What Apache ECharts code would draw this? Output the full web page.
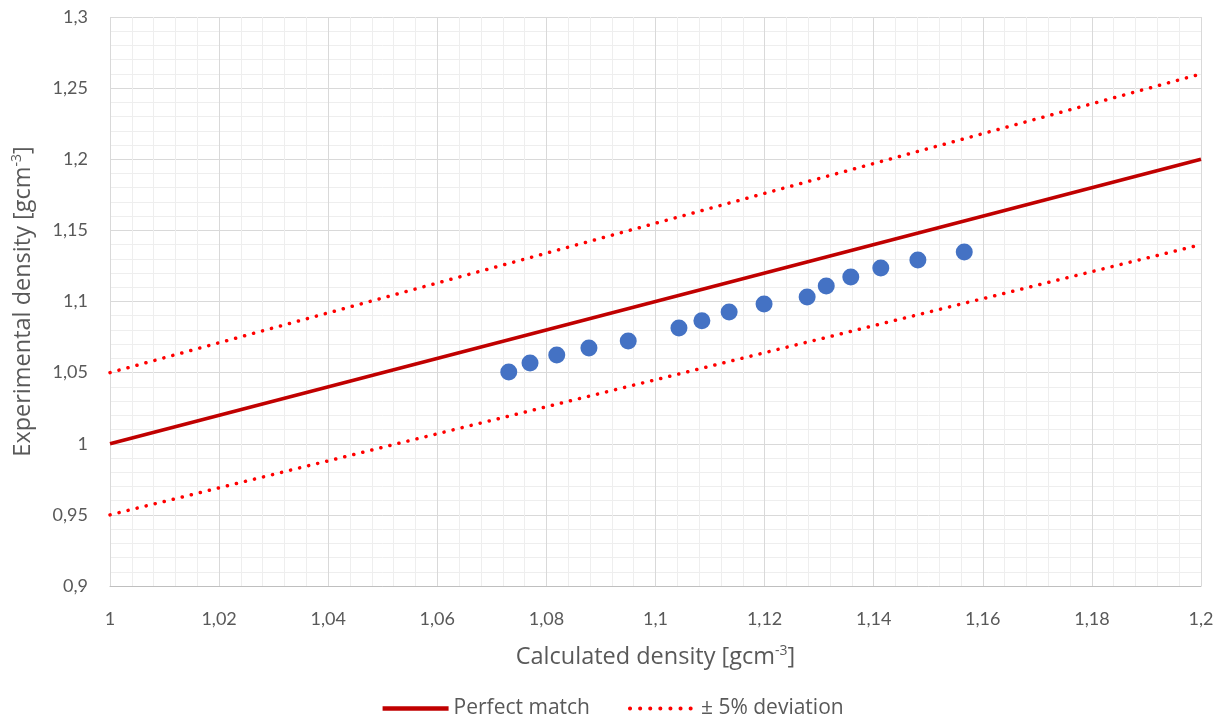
<!DOCTYPE html>
<html>
<head>
<meta charset="utf-8">
<script src="https://cdn.jsdelivr.net/npm/echarts@6/dist/echarts.min.js"></script>
<style>
  html, body { margin: 0; padding: 0; background: #fff; }
  #chart { width: 1224px; height: 725px; }
</style>
</head>
<body>
<div id="chart"></div>
<script>
  // 计算密度 vs 实验密度
  var calcDensity = [1.0731, 1.0770, 1.0819, 1.0878, 1.0950, 1.1043, 1.1085, 1.1135,
                     1.1199, 1.1278, 1.1313, 1.1358, 1.1413, 1.1481, 1.1566];
  var expDensity  = [1.0504, 1.0568, 1.0624, 1.0673, 1.0722, 1.0814, 1.0864, 1.0926,
                     1.0982, 1.1032, 1.1109, 1.1172, 1.1236, 1.1292, 1.1348];

  // 参考线端点
  var lineX = [1, 1.2];
  var perfectY = [1, 1.2];
  var upperY = [1.05, 1.26];
  var lowerY = [0.95, 1.14];

  var font = 'Lato, "Open Sans", sans-serif';
  var titleFont = '"Open Sans", Lato, sans-serif';
  var textColor = '#595959';

  function fmt(v) {
    return String(parseFloat(v.toFixed(3))).replace('.', ',');
  }
  function pairs(xs, ys) {
    return xs.map(function (x, i) { return [x, ys[i]]; });
  }

  var titleRich = {
    n: { fontFamily: titleFont, fontSize: 23.5, color: textColor },
    s: { fontFamily: titleFont, fontSize: 14, color: textColor, verticalAlign: 'top', padding: [0, 0, 12, 0] }
  };
  var dots = { color: '#ff0000', width: 3.5, type: [0.1, 9.2], cap: 'round' };

  var chart = echarts.init(document.getElementById('chart'));
  var option = {
    animation: false,
    textStyle: { fontFamily: font, color: textColor },
    grid: { left: 110, right: 23, top: 17, bottom: 139, containLabel: false, outerBoundsMode: 'none' },
    legend: {
      bottom: 1,
      left: 'center',
      itemWidth: 66,
      itemHeight: 14,
      itemGap: 38,
      itemStyle: { opacity: 0 },
      textStyle: { fontFamily: titleFont, fontSize: 21, color: textColor },
      data: [
        { name: 'Perfect match', lineStyle: { width: 4.5 } },
        { name: '± 5% deviation', lineStyle: { width: 4, type: [0.1, 10], cap: 'round' } }
      ]
    },
    xAxis: {
      type: 'value',
      min: 1, max: 1.2, interval: 0.02,
      name: '{n|Calculated density [gcm}{s|-3}{n|]}',
      nameLocation: 'middle',
      nameGap: 58,
      nameTextStyle: { rich: titleRich },
      axisLine: { lineStyle: { color: '#bfbfbf', width: 1 } },
      axisTick: { show: false },
      axisLabel: { fontSize: 18, color: textColor, margin: 24, formatter: fmt },
      splitLine: { lineStyle: { color: '#d9d9d9', width: 1 } },
      minorTick: { show: false, splitNumber: 5 },
      minorSplitLine: { show: true, lineStyle: { color: '#eeeeee', width: 1 } }
    },
    yAxis: {
      type: 'value',
      min: 0.9, max: 1.3, interval: 0.05,
      name: '{n|Experimental density [gcm}{s|-3}{n|]}',
      nameLocation: 'middle',
      nameGap: 74,
      nameTextStyle: { rich: titleRich },
      axisLine: { show: false },
      axisTick: { show: false },
      axisLabel: { fontSize: 18, color: textColor, margin: 22, formatter: fmt },
      splitLine: { lineStyle: { color: '#d9d9d9', width: 1 } },
      minorTick: { show: false, splitNumber: 5 },
      minorSplitLine: { show: true, lineStyle: { color: '#eeeeee', width: 1 } }
    },
    series: [
      {
        name: 'Perfect match',
        type: 'line',
        data: pairs(lineX, perfectY),
        showSymbol: false,
        symbol: 'none',
        lineStyle: { color: '#c00000', width: 3.5 },
        itemStyle: { color: '#c00000' },
        z: 3
      },
      {
        name: '± 5% deviation',
        type: 'line',
        data: pairs(lineX, upperY),
        showSymbol: false,
        symbol: 'none',
        lineStyle: dots,
        itemStyle: { color: '#ff0000' },
        z: 3
      },
      {
        name: '± 5% deviation',
        type: 'line',
        data: pairs(lineX, lowerY),
        showSymbol: false,
        symbol: 'none',
        lineStyle: dots,
        itemStyle: { color: '#ff0000' },
        z: 3
      },
      {
        name: 'Data',
        type: 'scatter',
        data: pairs(calcDensity, expDensity),
        symbolSize: 17,
        itemStyle: { color: '#4472c4', opacity: 1 },
        z: 4
      }
    ]
  };
  chart.setOption(option);
</script>
</body>
</html>
